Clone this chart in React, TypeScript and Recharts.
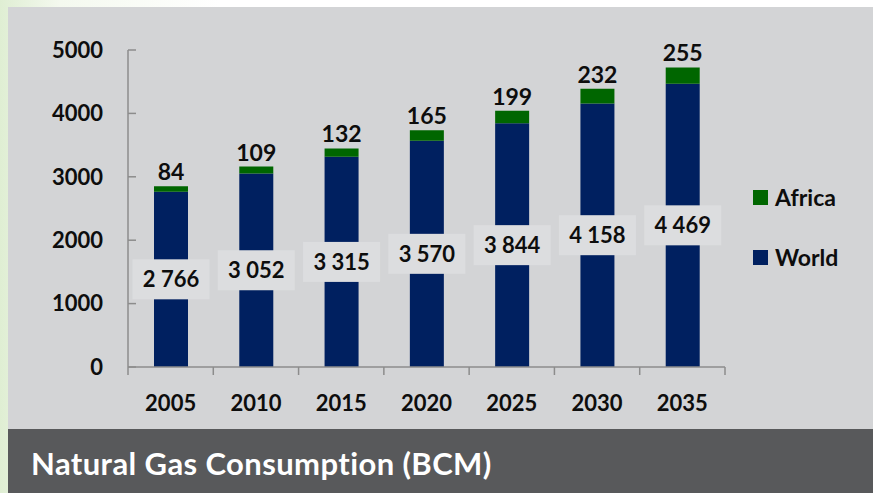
import { Bar, BarChart, LabelList, Legend, XAxis, YAxis } from "recharts";

const YEARS = ["2005", "2010", "2015", "2020", "2025", "2030", "2035"];
const WORLD = [2766, 3052, 3315, 3570, 3844, 4158, 4469];
const AFRICA = [84, 109, 132, 165, 199, 232, 255];
const Y_TICKS = [0, 1000, 2000, 3000, 4000, 5000];

const WORLD_COLOR = "#002060";
const AFRICA_COLOR = "#006600";
const PANEL_BG = "#d3d4d6";
const LABEL_BOX = "#dcdddf";
const AXIS_GRAY = "#8c8c8c";
const FONT = "Lato, 'Open Sans', sans-serif";

const CHART_W = 865;
const CHART_H = 422;
const Y_AXIS_W = 120;
const MARGIN = { top: 43, right: 148, bottom: 0, left: 0 };
const PLOT_W = CHART_W - MARGIN.left - MARGIN.right - Y_AXIS_W;
const BAND = PLOT_W / YEARS.length;

const data = YEARS.map((year, i) => ({ year, world: WORLD[i], africa: AFRICA[i] }));

// "2766" -> "2 766"
const spaced = (v: number) => String(v).replace(/\B(?=(\d{3})+(?!\d))/g, " ");

function YearTick(props: any) {
  const { x, y, payload, index } = props;
  const axisY = y - 8;
  const left = x - BAND / 2;
  const right = x + BAND / 2;
  return (
    <g>
      <line x1={left} x2={left} y1={axisY} y2={axisY + 8} stroke={AXIS_GRAY} strokeWidth={1.5} />
      {index === YEARS.length - 1 && (
        <line x1={right} x2={right} y1={axisY} y2={axisY + 8} stroke={AXIS_GRAY} strokeWidth={1.5} />
      )}
      <text x={x} y={axisY + 44} textAnchor="middle" fontFamily={FONT} fontWeight={700} fontSize={22} fill="#0d0d0d">
        {payload.value}
      </text>
    </g>
  );
}

function WorldLabel(props: any) {
  const { x, y, width, height, value } = props;
  const cx = x + width / 2;
  const cy = y + height / 2;
  return (
    <g>
      <rect x={cx - 38.5} y={cy - 20} width={77} height={40} fill={LABEL_BOX} />
      <text x={cx} y={cy + 8} textAnchor="middle" fontFamily={FONT} fontWeight={700} fontSize={22} fill="#0d0d0d">
        {spaced(value)}
      </text>
    </g>
  );
}

function SideLegend() {
  const items = [
    { name: "Africa", color: AFRICA_COLOR },
    { name: "World", color: WORLD_COLOR },
  ];
  return (
    <div style={{ display: "flex", flexDirection: "column", gap: 30 }}>
      {items.map((it) => (
        <div key={it.name} style={{ display: "flex", alignItems: "center", height: 30 }}>
          <span style={{ width: 15, height: 15, background: it.color, marginRight: 7 }} />
          <span style={{ fontFamily: FONT, fontWeight: 700, fontSize: 23, color: "#0d0d0d" }}>{it.name}</span>
        </div>
      ))}
    </div>
  );
}

export default function App() {
  return (
    <div
      style={{
        position: "absolute",
        left: 0,
        top: 0,
        width: 873,
        height: 493,
        overflow: "hidden",
        background: "linear-gradient(to right, #dfeed3 0px, #f4f9ef 60px, #ffffff 220px)",
      }}
    >
      <div style={{ position: "absolute", left: 8, top: 7, width: CHART_W, height: CHART_H, background: PANEL_BG }}>
        <BarChart width={CHART_W} height={CHART_H} data={data} margin={MARGIN}>
          <YAxis
            width={Y_AXIS_W}
            domain={[0, 5000]}
            ticks={Y_TICKS}
            interval={0}
            axisLine={{ stroke: AXIS_GRAY, strokeWidth: 1.5 }}
            tickLine={{ stroke: AXIS_GRAY, strokeWidth: 1.5 }}
            tickSize={-8}
            tickMargin={33}
            tick={{ fontFamily: FONT, fontWeight: 700, fontSize: 22, fill: "#0d0d0d" }}
          />
          <XAxis
            dataKey="year"
            height={CHART_H - 360}
            interval={0}
            axisLine={{ stroke: AXIS_GRAY, strokeWidth: 1.5 }}
            tickLine={false}
            tickSize={8}
            tickMargin={0}
            tick={<YearTick />}
          />
          <Legend
            layout="vertical"
            align="center"
            verticalAlign="middle"
            wrapperStyle={{ left: 745, top: 175, width: 120 }}
            content={<SideLegend />}
          />
          <Bar dataKey="world" name="World" stackId="gas" fill={WORLD_COLOR} barSize={34} isAnimationActive={false}>
            <LabelList dataKey="world" content={<WorldLabel />} />
          </Bar>
          <Bar dataKey="africa" name="Africa" stackId="gas" fill={AFRICA_COLOR} barSize={34} isAnimationActive={false}>
            <LabelList
              dataKey="africa"
              position="top"
              offset={6}
              style={{ fontFamily: FONT, fontWeight: 700, fontSize: 23, fill: "#0d0d0d" }}
            />
          </Bar>
        </BarChart>
      </div>
      <div
        style={{
          position: "absolute",
          left: 8,
          top: 429,
          width: 865,
          height: 64,
          background: "#58595b",
        }}
      >
        <div
          style={{
            position: "absolute",
            left: 23,
            top: 15,
            fontFamily: FONT,
            fontWeight: 700,
            fontSize: 31,
            letterSpacing: 0.4,
            color: "#ffffff",
            whiteSpace: "nowrap",
          }}
        >
          Natural Gas Consumption (BCM)
        </div>
      </div>
    </div>
  );
}
